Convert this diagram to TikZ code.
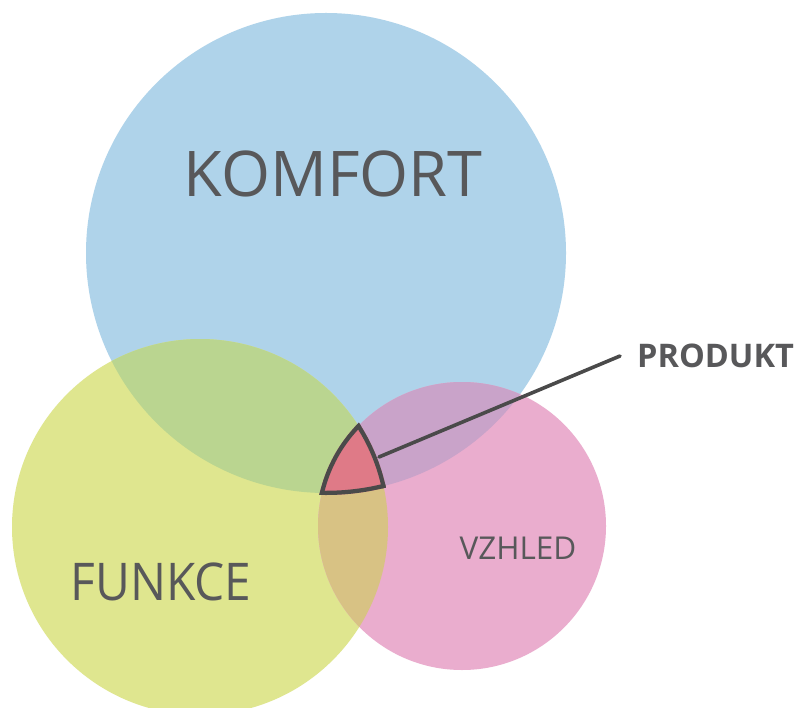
\documentclass[tikz,border=0pt]{standalone}
\usepackage{fontspec}
\setmainfont{Open Sans}
\definecolor{cblue}{HTML}{AFD3EA}
\definecolor{cgreen}{HTML}{DFE68F}
\definecolor{cpink}{HTML}{EAADCE}
\definecolor{cbg}{HTML}{BAD590}
\definecolor{cbp}{HTML}{C9A3C9}
\definecolor{cgp}{HTML}{D8C284}
\definecolor{cred}{HTML}{DF7A87}
\definecolor{cline}{HTML}{4A4A4A}
\definecolor{txtgray}{HTML}{58585A}
\begin{document}
\begin{tikzpicture}[x=1pt,y=-1pt,
  lbl/.style={inner sep=0pt, text=txtgray, anchor=center},
  connector/.style={draw=cline, line width=3.6pt, line cap=round}]
\useasboundingbox (0,0) rectangle (802,708);
\clip (0,0) rectangle (802,708);
\fill[white] (0,0) rectangle (802,708);
\coordinate (A) at (326,253);
\coordinate (B) at (200,527);
\coordinate (C) at (462,526);
\def\rA{240}\def\rB{188}\def\rC{144}
% base circles
\fill[cblue] (A) circle[radius=\rA];
\fill[cgreen] (B) circle[radius=\rB];
\fill[cpink] (C) circle[radius=\rC];
% pairwise overlaps
\begin{scope}\clip (A) circle[radius=\rA]; \fill[cbg] (B) circle[radius=\rB];\end{scope}
\begin{scope}\clip (A) circle[radius=\rA]; \fill[cbp] (C) circle[radius=\rC];\end{scope}
\begin{scope}\clip (B) circle[radius=\rB]; \fill[cgp] (C) circle[radius=\rC];\end{scope}
% triple overlap
\begin{scope}
  \clip (A) circle[radius=\rA+2];
  \clip (B) circle[radius=\rB+2];
  \fill[cred] (C) circle[radius=\rC+2];
  \clip (C) circle[radius=\rC+2];
  \draw[cline, line width=8.5pt] (A) circle[radius=\rA+2];
  \draw[cline, line width=8.5pt] (B) circle[radius=\rB+2];
  \draw[cline, line width=8.5pt] (C) circle[radius=\rC+2];
\end{scope}
% labels
\node[lbl, font=\fontsize{63}{63}\selectfont] (komfort) at (333,174) {KOMFORT};
\node[lbl, font=\fontsize{52}{52}\selectfont] (funkce) at (161,582) {\scalebox{0.92}[1]{FUNKCE}};
\node[lbl, font=\fontsize{31.5}{31.5}\selectfont] (vzhled) at (518,548) {VZHLED};
\node[inner ysep=0pt, inner xsep=17pt, anchor=west, text=txtgray,
      font=\fontsize{32.5}{32.5}\selectfont\bfseries] (produkt) at (620,356) {PRODUKT};
\coordinate (tip) at (379,457);
\draw[connector] (tip) -- (produkt.west);
\end{tikzpicture}
\end{document}
